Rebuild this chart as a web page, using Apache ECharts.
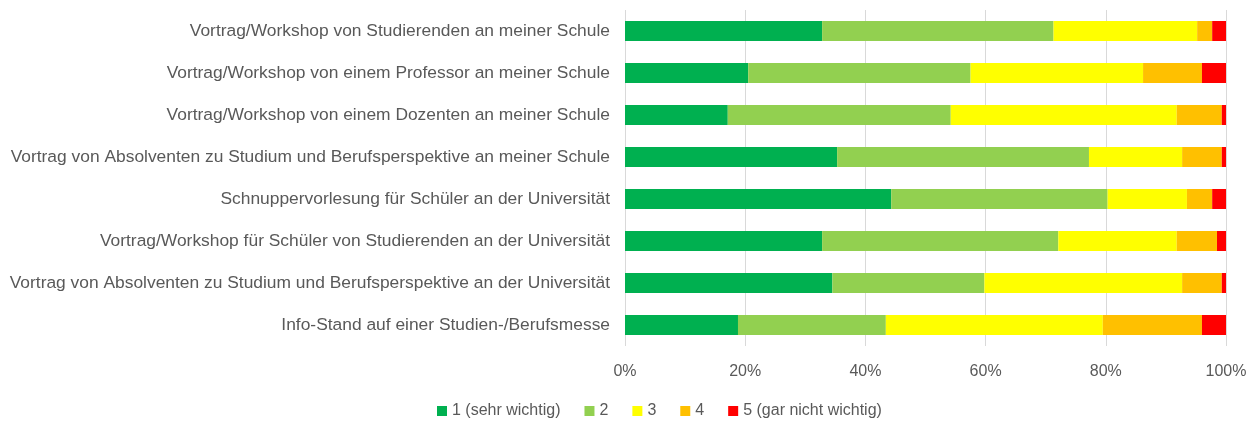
<!DOCTYPE html>
<html>
  <head>
    <meta charset="utf-8" />
    <title>Wichtigkeit</title>
    <style>
      html, body { margin: 0; padding: 0; background: #ffffff; }
    </style>
  </head>
  <body>
    <div id="chart" style="width: 1256px; height: 423px"></div>
    <script src="https://cdn.jsdelivr.net/npm/echarts@6/dist/echarts.min.js"></script>
    <script type="text/javascript">
      // Kategorien von oben nach unten
      var categories = [
        "Vortrag/Workshop von Studierenden an meiner Schule",
        "Vortrag/Workshop von einem Professor an meiner Schule",
        "Vortrag/Workshop von einem Dozenten an meiner Schule",
        "Vortrag von Absolventen zu Studium und Berufsperspektive an meiner Schule",
        "Schnuppervorlesung für Schüler an der Universität",
        "Vortrag/Workshop für Schüler von Studierenden an der Universität",
        "Vortrag von Absolventen zu Studium und Berufsperspektive an der Universität",
        "Info-Stand auf einer Studien-/Berufsmesse"
      ];
      var seriesNames = ["1 (sehr wichtig)", "2", "3", "4", "5 (gar nicht wichtig)"];
      // Anteile in %, gleiche Reihenfolge wie categories
      var v1 = [32.8, 20.5, 17.1, 35.3, 44.3, 32.8, 34.5, 18.8];
      var v2 = [38.5, 37.0, 37.1, 41.9, 36.0, 39.3, 25.3, 24.6];
      var v3 = [23.9, 28.7, 37.6, 15.5, 13.2, 19.7, 32.9, 36.1];
      var v4 = [2.5, 9.8, 7.5, 6.6, 4.2, 6.7, 6.6, 16.5];
      var v5 = [2.3, 4.0, 0.7, 0.7, 2.3, 1.5, 0.7, 4.0];
      var xTicks = [0, 20, 40, 60, 80, 100];

      var colors = ["#00b050", "#92d050", "#ffff00", "#ffc000", "#ff0000"];
      var values = [v1, v2, v3, v4, v5];
      var font = "Liberation Sans, Arial, sans-serif";

      var chart = echarts.init(document.getElementById("chart"));
      var series = [];
      for (var i = 0; i < seriesNames.length; i++) {
        series.push({
          name: seriesNames[i],
          type: "bar",
          stack: "total",
          barWidth: 20,
          itemStyle: { color: colors[i] },
          data: values[i]
        });
      }
      chart.setOption({
        animation: false,
        grid: { left: 625, right: 30, top: 10, bottom: 77, containLabel: false },
        legend: {
          bottom: -1,
          left: 432,
          itemWidth: 10,
          itemHeight: 10,
          itemGap: 24,
          icon: "rect",
          textStyle: { color: "#595959", fontSize: 16, fontFamily: font }
        },
        xAxis: {
          type: "value",
          min: 0,
          max: 100,
          interval: 20,
          axisLine: { show: false },
          axisTick: { show: false },
          splitLine: { lineStyle: { color: "#d9d9d9", width: 1 } },
          axisLabel: {
            color: "#595959",
            fontSize: 16,
            fontFamily: font,
            margin: 18,
            formatter: function (v) {
              return xTicks.indexOf(v) >= 0 ? v + "%" : "";
            }
          }
        },
        yAxis: {
          type: "category",
          inverse: true,
          data: categories,
          axisLine: { show: false },
          axisTick: { show: false },
          axisLabel: { color: "#595959", fontSize: 17.4, fontFamily: font, margin: 15 }
        },
        series: series
      });
    </script>
  </body>
</html>
